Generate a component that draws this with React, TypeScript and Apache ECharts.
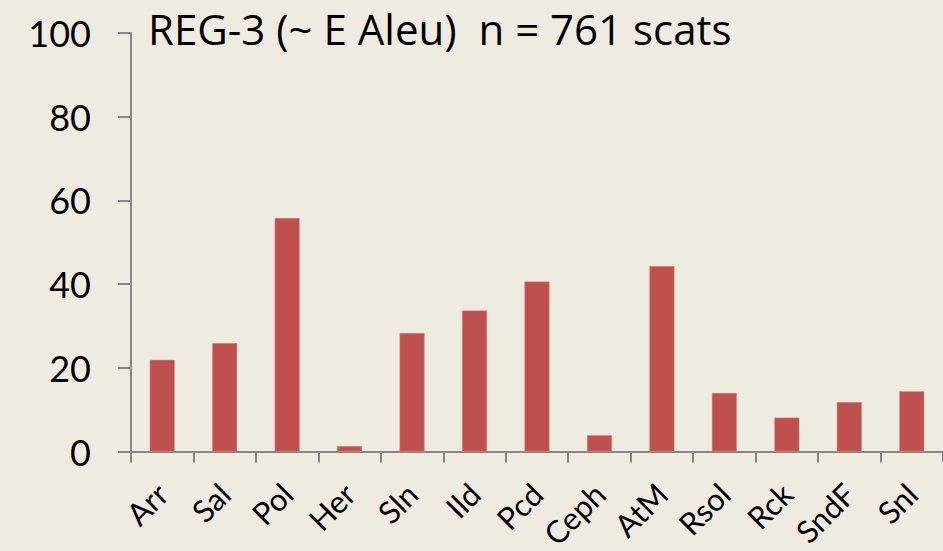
import React, { useEffect, useRef } from "react";
import * as echarts from "echarts";

const categories = ["Arr", "Sal", "Pol", "Her", "Sln", "Ild", "Pcd", "Ceph", "AtM", "Rsol", "Rck", "SndF", "Snl"];
const values = [21.9, 25.9, 55.8, 1.3, 28.3, 33.7, 40.6, 3.9, 44.3, 14.0, 8.1, 11.8, 14.4];
const titleText = "REG-3 (~ E Aleu)  n = 761 scats";

export default function App() {
  const ref = useRef<HTMLDivElement>(null);
  useEffect(() => {
    if (!ref.current) return;
    const chart = echarts.init(ref.current, undefined, { renderer: "svg" });
    const font = "Lato, 'Open Sans', sans-serif";
    chart.setOption({
      animation: false,
      backgroundColor: "#EEECE1",
      title: {
        text: titleText,
        left: 148,
        top: 4,
        padding: 0,
        textStyle: { fontFamily: "'Open Sans', sans-serif", fontSize: 42, lineHeight: 48, fontWeight: "normal", color: "#000" },
      },
      grid: { left: 131, right: 0, top: 33, bottom: 99.5, containLabel: false, outerBoundsMode: "none" },
      xAxis: {
        type: "category",
        data: categories,
        axisLine: { lineStyle: { color: "#868686", width: 2 } },
        axisTick: { show: true, length: 11, lineStyle: { color: "#868686", width: 2 } },
        axisLabel: {
          rotate: 45,
          interval: 0,
          margin: 37,
          fontFamily: font,
          fontSize: 31,
          color: "#000",
        },
      },
      yAxis: {
        type: "value",
        min: 0,
        max: 100,
        interval: 20,
        splitLine: { show: false },
        axisLine: { show: true, lineStyle: { color: "#868686", width: 2 } },
        axisTick: { show: true, length: 13, lineStyle: { color: "#868686", width: 2 } },
        axisLabel: { margin: 40, fontFamily: font, fontSize: 36, color: "#000" },
      },
      series: [
        {
          type: "bar",
          data: values,
          barWidth: 25,
          itemStyle: { color: "#C0504D", borderColor: "#D8918F", borderWidth: 0.5 },
        },
      ],
    });
    return () => chart.dispose();
  }, []);
  return (
    <div
      ref={ref}
      style={{ position: "fixed", left: 0, top: 0, width: 943, height: 551 }}
    />
  );
}
